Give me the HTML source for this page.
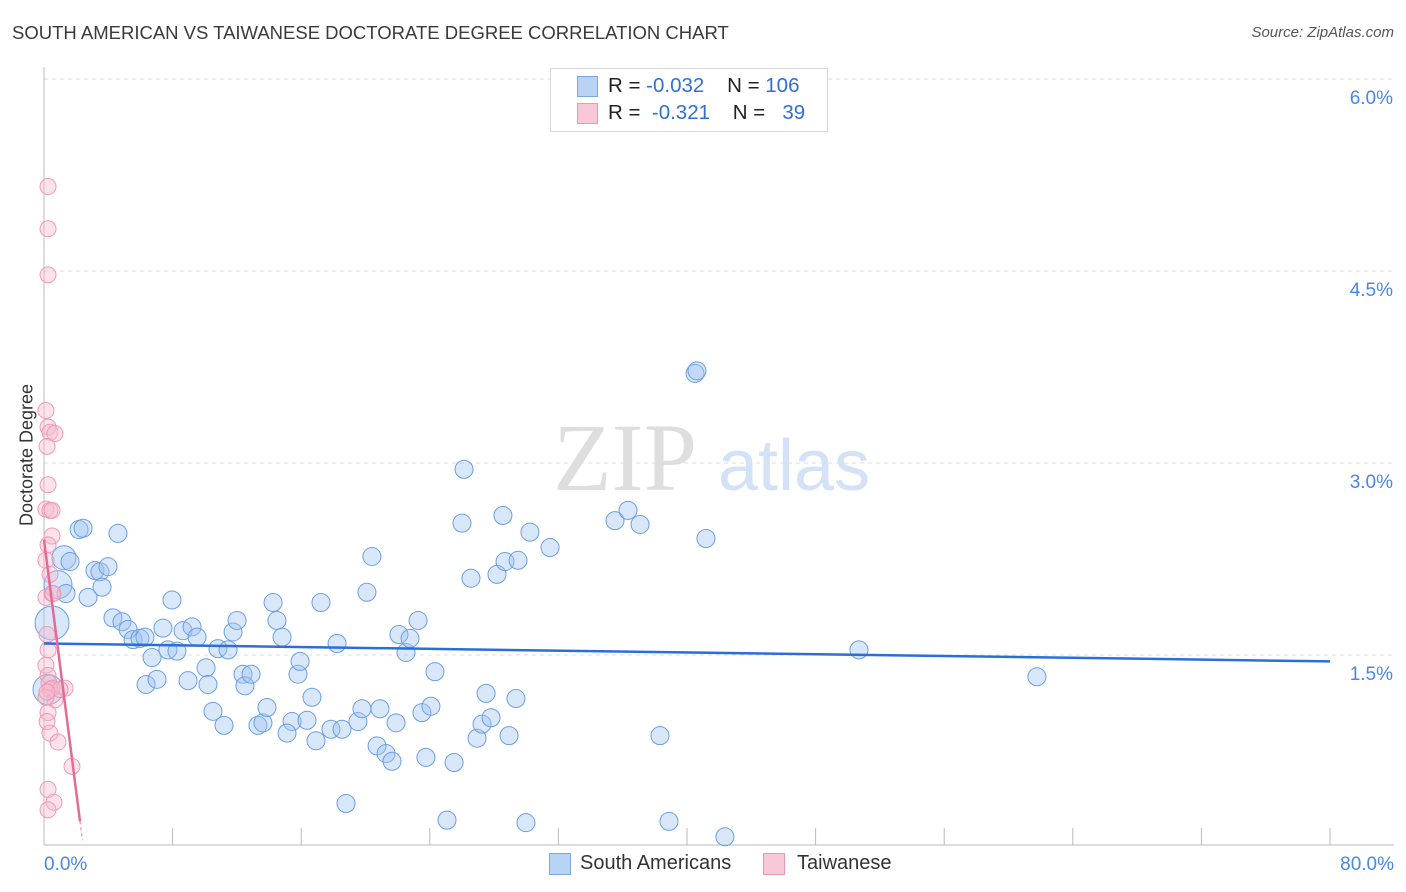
<!DOCTYPE html>
<html><head><meta charset="utf-8"><style>
body{margin:0;background:#fff;font-family:"Liberation Sans",sans-serif;}
#wrap{position:relative;width:1406px;height:892px;overflow:hidden;}
.t{position:absolute;white-space:nowrap;}
</style></head><body>
<div id="wrap">
<div class="t" style="left:12px;top:22px;font-size:18.5px;color:#3a3a3a;">SOUTH AMERICAN VS TAIWANESE DOCTORATE DEGREE CORRELATION CHART</div>
<div class="t" style="right:12px;top:24px;font-size:15px;color:#555;font-style:italic;">Source: ZipAtlas.com</div>
<div class="t" style="left:27px;top:455px;font-size:18px;color:#333;transform:translate(-50%,-50%) rotate(-90deg);">Doctorate Degree</div>
<svg id="plot" width="1406" height="892" style="position:absolute;left:0;top:0"></svg>
<div style="position:absolute;left:550px;top:68px;width:276px;height:62px;border:1px solid #d8d8d8;background:#fff;">
 <div style="position:absolute;left:26px;top:7px;width:19px;height:19px;background:#b9d3f5;border:1px solid #7aa6e6;"></div>
 <div class="t" style="left:57px;top:5px;font-size:20.5px;color:#222;">R = <span style="color:#2f6fd6">-0.032</span>&nbsp;&nbsp;&nbsp;&nbsp;N = <span style="color:#2f6fd6">106</span></div>
 <div style="position:absolute;left:26px;top:34px;width:19px;height:19px;background:#f9c8d6;border:1px solid #ee97b1;"></div>
 <div class="t" style="left:57px;top:32px;font-size:20.5px;color:#222;">R = &nbsp;<span style="color:#2f6fd6">-0.321</span>&nbsp;&nbsp;&nbsp;&nbsp;N = &nbsp;&nbsp;<span style="color:#2f6fd6">39</span></div>
</div>
<div style="position:absolute;left:549px;top:853px;width:20px;height:20px;background:#b9d3f5;border:1px solid #7aa6e6;"></div>
<div class="t" style="left:580px;top:852px;font-size:20px;color:#333;">South Americans</div>
<div style="position:absolute;left:763px;top:853px;width:20px;height:20px;background:#f9c8d6;border:1px solid #ee97b1;"></div>
<div class="t" style="left:797px;top:852px;font-size:20px;color:#333;">Taiwanese</div>
</div>
<script>
const yTicks=[1.5,3.0,4.5,6.0];
const yTickLabels=["1.5%","3.0%","4.5%","6.0%"];
const xTickVals=[8,16,24,32,40,48,56,64,72,80];
const xEndLabels=["0.0%","80.0%"];
const saX=[2.18,2.43,4.60,1.24,1.62,3.17,3.48,3.98,0.87,1.37,2.74,3.61,0.50,4.29,4.85,5.23,5.54,5.97,6.28,6.72,6.35,7.03,7.40,7.96,7.71,8.27,8.65,9.21,9.52,8.96,10.08,10.20,10.51,11.20,10.82,11.45,11.76,12.01,12.38,12.50,12.88,13.31,13.62,13.87,14.25,14.49,14.81,15.80,15.93,16.67,15.43,15.12,16.36,16.92,17.23,17.85,18.54,18.23,19.53,19.78,20.09,20.40,20.90,20.72,21.28,21.65,21.90,22.08,22.52,22.77,23.27,23.51,24.07,24.32,23.76,25.51,25.07,18.79,26.00,26.13,26.56,26.94,27.25,27.50,27.81,28.18,28.55,28.68,28.93,29.36,29.49,30.23,31.48,35.52,36.33,37.08,38.32,38.88,40.50,40.62,41.18,42.36,50.70,61.77,29.98,0.25];
const saY=[2.48,2.49,2.45,2.26,2.23,2.16,2.15,2.19,2.05,1.98,1.95,2.03,1.75,1.79,1.76,1.70,1.62,1.63,1.64,1.48,1.27,1.31,1.71,1.93,1.54,1.53,1.69,1.72,1.64,1.30,1.40,1.27,1.06,0.95,1.55,1.54,1.68,1.77,1.35,1.26,1.35,0.95,0.97,1.09,1.91,1.77,1.64,1.35,1.45,1.17,0.98,0.89,0.99,0.83,1.91,0.92,0.92,1.59,0.98,1.08,1.99,2.27,1.08,0.79,0.73,0.67,0.97,1.66,1.52,1.63,1.77,1.05,1.10,1.37,0.70,0.66,0.21,0.34,2.53,2.95,2.10,0.85,0.96,1.20,1.01,2.13,2.59,2.23,0.87,1.16,2.24,2.46,2.34,2.55,2.63,2.52,0.87,0.20,3.70,3.72,2.41,0.08,1.54,1.33,0.19,1.23];
const saBig=[[3,12],[8,14],[12,17],[105,15]];
const twX=[0.25,0.25,0.25,0.12,0.25,0.37,0.68,0.19,0.25,0.12,0.37,0.50,0.50,0.25,0.12,0.37,0.12,0.50,0.19,0.25,0.12,0.25,0.31,0.37,1.31,0.68,0.25,0.19,0.37,0.87,1.74,0.25,0.62,0.25,0.50,1.00,0.12,0.19,0.56];
const twY=[5.16,4.83,4.47,3.41,3.28,3.24,3.23,3.13,2.83,2.64,2.63,2.63,2.43,2.36,2.24,2.13,1.95,1.98,1.66,1.54,1.42,1.34,1.28,1.23,1.24,1.15,1.05,0.98,0.89,0.82,0.63,0.45,0.35,0.29,1.24,1.23,1.17,1.21,1.98];
const saTrend=[1.59,1.45];
const twTrend=[2.40,0.20];
const twTrendEndX=2.24;

const NS="http://www.w3.org/2000/svg";
const svg=document.getElementById('plot');
const X=v=>44+v/80*1286;
const Y=v=>847-v*128;
function mk(t,a){const e=document.createElementNS(NS,t);for(const k in a)e.setAttribute(k,a[k]);svg.appendChild(e);return e;}
yTicks.forEach((v,i)=>{
 const g=mk('line',{x1:44,x2:1394,y1:Y(v),y2:Y(v),stroke:'#ddd','stroke-dasharray':'4,4'});
 
 
 const t=mk('text',{x:1393,y:Y(v)+25,'text-anchor':'end','font-size':19,fill:'#4a86e8','font-family':'Liberation Sans'});
 t.textContent=yTickLabels[i];
 
 
});
const ax=mk('line',{x1:44,x2:44,y1:67,y2:845,stroke:'#bbb'});


const bx=mk('line',{x1:44,x2:1394,y1:845,y2:845,stroke:'#bbb'});


xTickVals.forEach(v=>{
 const l=mk('line',{x1:X(v),x2:X(v),y1:828,y2:845,stroke:'#bbb'});
 
 
});
[[0,'start',44],[1,'end',1394]].forEach(([i,a,x])=>{
 const t=mk('text',{x:x,y:870,'text-anchor':a,'font-size':19,fill:'#4a86e8','font-family':'Liberation Sans'});
 t.textContent=xEndLabels[i];
 
 
});
const w1=mk('text',{x:553,y:490,'font-size':96,fill:'#dedede','font-family':'Liberation Serif'});
w1.textContent='ZIP';


const w2=mk('text',{x:718,y:490,'font-size':72,fill:'#d3e2f6','font-family':'Liberation Sans'});
w2.textContent='atlas';


saX.forEach((x,i)=>{
 let r=9;saBig.forEach(b=>{if(b[0]===i)r=b[1];});
 const c=mk('circle',{cx:X(x),cy:Y(saY[i]),r:r,fill:'rgba(160,196,242,0.4)',stroke:'#6b9fe3','stroke-width':1});
 
 
});
twX.forEach((x,i)=>{
 const c=mk('circle',{cx:X(x),cy:Y(twY[i]),r:8,fill:'rgba(248,185,205,0.4)',stroke:'#ef9ab4','stroke-width':1});
 
 
});
const bl=mk('line',{x1:X(0),y1:Y(saTrend[0]),x2:X(80),y2:Y(saTrend[1]),stroke:'#2a6fd8','stroke-width':2.5});


const pl=mk('line',{x1:X(0),y1:Y(twTrend[0]),x2:X(twTrendEndX),y2:Y(twTrend[1]),stroke:'#e56b93','stroke-width':2.5});


const slope=(twTrend[1]-twTrend[0])/twTrendEndX;
const pd=mk('line',{x1:X(twTrendEndX),y1:Y(twTrend[1]),x2:X(twTrendEndX+0.15),y2:Y(twTrend[1]+slope*0.15),stroke:'#e9a0b8','stroke-width':1.5,'stroke-dasharray':'3,3'});


</script>
</body></html>
